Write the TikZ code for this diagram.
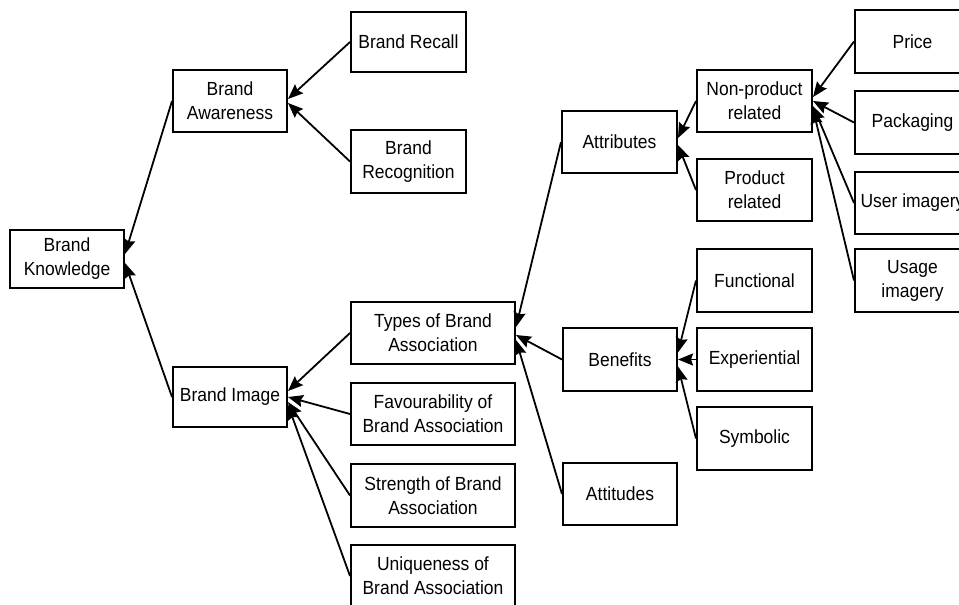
\documentclass[tikz,border=0pt]{standalone}
\usepackage{fontspec}
\setmainfont[FakeStretch=0.92]{Liberation Sans}
\usetikzlibrary{arrows.meta}

\tikzset{
  box/.style={draw=black, line width=2pt, fill=white, align=center,
    inner sep=0pt, font=\fontsize{19}{24}\selectfont},
  conn/.style={draw=black, line width=1.8pt,
    -{Stealth[length=15pt,width=12pt,inset=2pt]}}
}

% place a box by its top-left and bottom-right corners (pixel units)
\newcommand{\boxat}[6]{%
  \node[box, minimum width=#4pt-#2pt, minimum height=#5pt-#3pt]
    (#1) at ({(#2+#4)/2},{(#3+#5)/2}) {#6};}

\begin{document}
\begin{tikzpicture}[x=1pt,y=-1pt]
\useasboundingbox (0,0) rectangle (959,605);
\fill[white] (0,0) rectangle (959,605);
\clip (0,0) rectangle (959,605);

% root and first level
\boxat{bk}{10}{230}{124}{288}{Brand\\Knowledge}
\boxat{ba}{173}{70}{287}{132}{Brand\\Awareness}
\boxat{bi}{173}{367}{287}{427}{Brand Image}

% awareness branch
\boxat{brc}{351}{12}{466}{72}{Brand Recall}
\boxat{brg}{351}{130}{466}{193}{Brand\\Recognition}

% image branch
\boxat{types}{351}{302}{515}{364}{Types of Brand\\Association}
\boxat{fav}{351}{383}{515}{445}{Favourability of\\Brand Association}
\boxat{strg}{351}{464}{515}{527}{Strength of Brand\\Association}
\boxat{uniq}{351}{545}{515}{607}{Uniqueness of\\Brand Association}

% types of association
\boxat{attr}{562}{111}{677}{173}{Attributes}
\boxat{ben}{563}{328}{677}{391}{Benefits}
\boxat{atti}{563}{463}{677}{525}{Attitudes}

% attributes
\boxat{np}{697}{70}{812}{132}{Non-product\\related}
\boxat{pr}{697}{159}{812}{221}{Product\\related}

% benefits
\boxat{fun}{697}{249}{812}{312}{Functional}
\boxat{expe}{697}{328}{812}{391}{Experiential}
\boxat{sym}{697}{407}{812}{470}{Symbolic}

% non-product related
\boxat{price}{855}{10}{970}{73}{Price}
\boxat{pack}{855}{91}{970}{154}{Packaging}
\boxat{user}{855}{172}{970}{234}{User imagery}
\boxat{usage}{855}{249}{970}{312}{Usage\\imagery}

% connectors, child to parent
\draw[conn] (ba.west) -- ([yshift=5pt]bk.east);
\draw[conn] (bi.west) -- ([yshift=-4pt]bk.east);

\draw[conn] (brc.west) -- ([yshift=2pt]ba.east);
\draw[conn] (brg.west) -- ([yshift=-2pt]ba.east);

\draw[conn] (types.west) -- ([yshift=6pt]bi.east);
\draw[conn] (fav.west) -- ([yshift=0pt]bi.east);
\draw[conn] (strg.west) -- ([yshift=-5pt]bi.east);
\draw[conn] (uniq.west) -- ([yshift=-8pt]bi.east);

\draw[conn] (attr.west) -- ([yshift=6pt]types.east);
\draw[conn] (ben.west) -- ([yshift=-2pt]types.east);
\draw[conn] (atti.west) -- ([yshift=-7pt]types.east);

\draw[conn] (np.west) -- ([yshift=4pt]attr.east);
\draw[conn] (pr.west) -- ([yshift=-3pt]attr.east);

\draw[conn] (fun.west) -- ([yshift=7pt]ben.east);
\draw[conn] (expe.west) -- ([yshift=0pt]ben.east);
\draw[conn] (sym.west) -- ([yshift=-7pt]ben.east);

\draw[conn] (price.west) -- ([yshift=4pt]np.east);
\draw[conn] (pack.west) -- ([yshift=0pt]np.east);
\draw[conn] (user.west) -- ([yshift=-5pt]np.east);
\draw[conn] (usage.west) -- ([yshift=-8pt]np.east);
\end{tikzpicture}
\end{document}
